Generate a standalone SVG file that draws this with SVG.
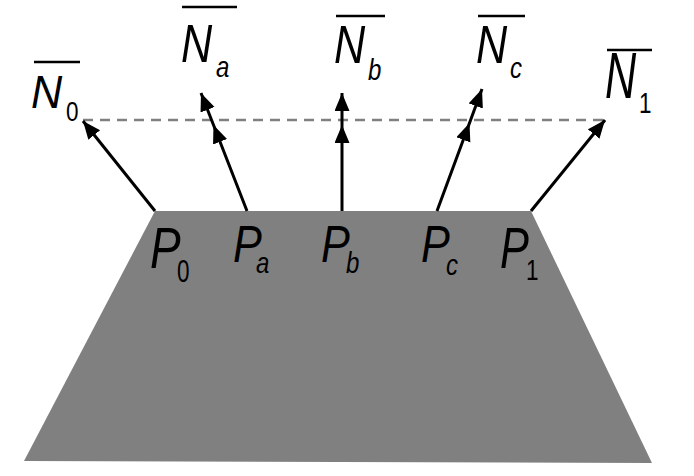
<svg xmlns="http://www.w3.org/2000/svg" width="694" height="476" viewBox="0 0 694 476">
<style>
.lbl{font-family:"Liberation Sans",Arial,sans-serif;font-style:italic;fill:#000}
.num{font-style:normal}
.big{font-size:54px}
.sub{font-size:30px}
.bar{stroke:#000;stroke-width:2.5}
.arr{fill:none;stroke:#000;stroke-width:3}
</style>
<defs>
<marker id="ah" markerUnits="userSpaceOnUse" markerWidth="20" markerHeight="16" refX="18" refY="7.5" orient="auto">
<path d="M0,0 L18,7.5 L0,15 z" fill="#000"/>
</marker>
</defs>
<rect width="694" height="476" fill="#fff"/>
<g id="surface">
<polygon points="155,211 531,211 652,463 24,461" fill="#808080"/>
</g>
<line x1="83" y1="120" x2="604" y2="120" stroke="#808080" stroke-width="2.5" stroke-dasharray="10,7"/>
<g id="connectors">
<path class="arr" d="M155,211 L83,121" marker-end="url(#ah)"/>
<path class="arr" d="M247,211 L213.5,125 L201,93" marker-mid="url(#ah)" marker-end="url(#ah)"/>
<path class="arr" d="M342,211 L342,125 L342,93" marker-mid="url(#ah)" marker-end="url(#ah)"/>
<path class="arr" d="M437,211 L469.5,123 L482,89" marker-mid="url(#ah)" marker-end="url(#ah)"/>
<path class="arr" d="M531,211 L605,120" marker-end="url(#ah)"/>
</g>
<g id="N0">
<text class="lbl big" transform="translate(31,108) scale(0.8,0.85)">N</text>
<text class="lbl sub num" transform="translate(66,121) scale(0.75,0.9)">0</text>
<line class="bar" x1="34" y1="62" x2="80" y2="62"/>
</g>
<g id="Na">
<text class="lbl big" transform="translate(181,62) scale(0.8,1)">N</text>
<text class="lbl sub" transform="translate(216,77) scale(0.8,1)">a</text>
<line class="bar" x1="182" y1="7" x2="237" y2="7"/>
</g>
<g id="Nb">
<text class="lbl big" transform="translate(334,63) scale(0.8,1)">N</text>
<text class="lbl sub" transform="translate(368,80) scale(0.8,1)">b</text>
<line class="bar" x1="336" y1="16" x2="385" y2="16"/>
</g>
<g id="Nc">
<text class="lbl big" transform="translate(476,63) scale(0.8,1)">N</text>
<text class="lbl sub" transform="translate(510,78) scale(0.8,1)">c</text>
<line class="bar" x1="478" y1="16" x2="525" y2="16"/>
</g>
<g id="N1">
<text class="lbl big" transform="translate(605,98) scale(0.8,1.2)">N</text>
<text class="lbl sub num" transform="translate(639,113) scale(0.75,1)">1</text>
<line class="bar" x1="607" y1="50" x2="652" y2="50"/>
</g>
<g id="P0">
<text class="lbl big" transform="translate(150,268) scale(0.85,1.05)">P</text>
<text class="lbl sub num" transform="translate(177,282) scale(0.75,1.05)">0</text>
</g>
<g id="Pa">
<text class="lbl big" transform="translate(233,262) scale(0.8,0.95)">P</text>
<text class="lbl sub" transform="translate(256,273) scale(0.8,1)">a</text>
</g>
<g id="Pb">
<text class="lbl big" transform="translate(321,262) scale(0.8,0.95)">P</text>
<text class="lbl sub" transform="translate(346,273) scale(0.8,1)">b</text>
</g>
<g id="Pc">
<text class="lbl big" transform="translate(421,262) scale(0.8,0.95)">P</text>
<text class="lbl sub" transform="translate(446,275) scale(0.8,1)">c</text>
</g>
<g id="P1">
<text class="lbl big" transform="translate(500,268) scale(0.8,1.05)">P</text>
<text class="lbl sub num" transform="translate(526,280) scale(0.75,1)">1</text>
</g>
</svg>
